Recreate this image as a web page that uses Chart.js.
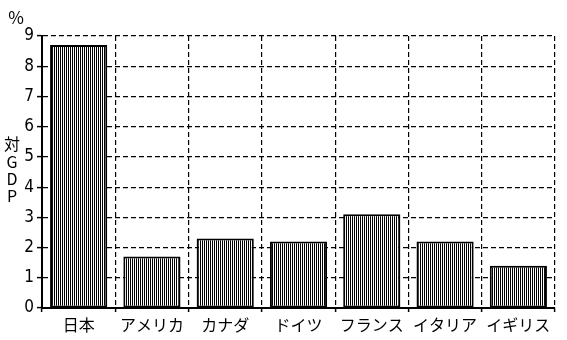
<!DOCTYPE html>
<html><head><meta charset="utf-8">
<script src="https://cdn.jsdelivr.net/npm/chart.js@4.4.0/dist/chart.umd.min.js"></script>
<style>html,body{margin:0;padding:0;background:#fff;}#wrap{width:567px;height:340px;}</style>
</head><body><div id="wrap"><canvas id="c" width="567" height="340"></canvas></div>
<script>
const categories = ['日本','アメリカ','カナダ','ドイツ','フランス','イタリア','イギリス'];
const values = [8.7, 1.7, 2.3, 2.2, 3.1, 2.2, 1.4];
const yTicks = [0,1,2,3,4,5,6,7,8,9];
const unitLabel = '%';
const axisTitleChars = ['対','G','D','P'];

const FONT = "'Noto Sans CJK JP', 'DejaVu Sans', sans-serif";
const NUMFONT = "'Liberation Sans Narrow', 'DejaVu Sans Condensed', sans-serif";

function stripePattern(){
  const p = document.createElement('canvas');
  p.width = 2; p.height = 1;
  const g = p.getContext('2d');
  g.fillStyle = '#fff'; g.fillRect(0,0,2,1);
  g.fillStyle = '#000'; g.fillRect(0,0,1,1);
  return document.getElementById('c').getContext('2d').createPattern(p,'repeat');
}

const textPlugin = {
  id:'textPlugin',
  afterDraw(chart){
    const ctx = chart.ctx;
    ctx.save();
    ctx.fillStyle = '#000';
    ctx.textAlign = 'center';
    ctx.textBaseline = 'middle';
    ctx.font = '17px ' + FONT;
    ctx.fillText(unitLabel, 16, 18);
    ctx.font = '16px ' + FONT;
    const ys = [144, 162, 179, 196];
    axisTitleChars.forEach((ch,i)=>ctx.fillText(ch, 12, ys[i]));
    ctx.restore();
  }
};

new Chart(document.getElementById('c'), {
  type:'bar',
  data:{labels:categories, datasets:[{
    data:values,
    backgroundColor: stripePattern(),
    borderColor:'#000',
    borderWidth:2,
    borderSkipped:false,
    barPercentage:0.78,
    categoryPercentage:1
  }]},
  options:{
    responsive:false, animation:false,
    devicePixelRatio:1,
    layout:{padding:{top:36,right:12,left:0,bottom:0}},
    plugins:{legend:{display:false},tooltip:{enabled:false}},
    scales:{
      x:{
        afterFit(s){ s.height = 32; },
        grid:{display:true, offset:true, color:'#000', lineWidth:1.2,
              drawTicks:true, tickLength:4, tickColor:'#000', tickBorderDash:[], tickWidth:1.5},
        border:{display:true, color:'#000', width:2, dash:[5,3]},
        ticks:{color:'#000', font:{family:FONT, size:16}, padding:3, maxRotation:0, autoSkip:false}
      },
      y:{
        min:0, max:9,
        afterFit(s){ s.width = 42; },
        afterBuildTicks(s){ s.ticks = yTicks.map(v=>({value:v})); },
        grid:{color:'#000', lineWidth:1.2,
              drawTicks:true, tickLength:5, tickColor:'#000', tickBorderDash:[], tickWidth:1.5},
        border:{display:true, color:'#000', width:2, dash:[5,3]},
        ticks:{color:'#000', font:{family:NUMFONT, size:17}, padding:3, stepSize:1}
      }
    }
  },
  plugins:[textPlugin]
});
</script></body></html>
